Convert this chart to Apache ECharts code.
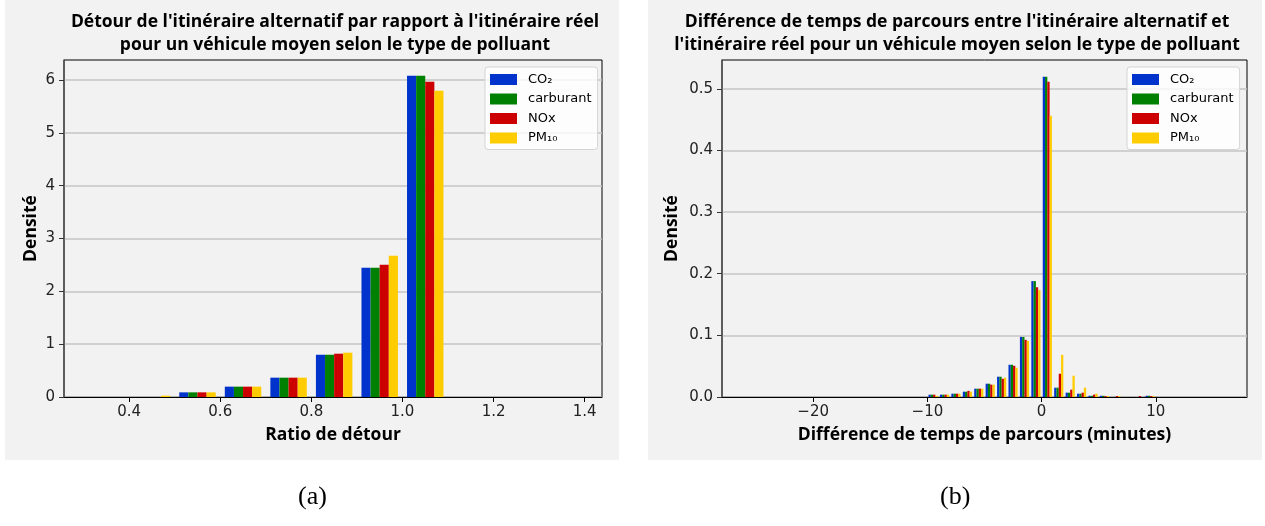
<!DOCTYPE html>
<html>
<head>
<meta charset="utf-8">
<script src="https://cdn.jsdelivr.net/npm/echarts@6/dist/echarts.min.js"></script>
<style>
html,body{margin:0;padding:0;background:#fff;}
#chart{width:1265px;height:526px;}
</style>
</head>
<body>
<div id="chart"></div>
<script>
// ---------- data ----------
const seriesNames = ['CO₂', 'carburant', 'NOx', 'PM₁₀'];
const seriesColors = ['#0033cc', '#008000', '#cc0000', '#ffcc00'];

// (a) detour ratio histogram: bin left edges (width 0.1)
const leftBins  = [0.3, 0.4, 0.5, 0.6, 0.7, 0.8, 0.9, 1.0, 1.1, 1.2, 1.3];
const leftCO2   = [0, 0,     0.088, 0.196, 0.366, 0.800, 2.448, 6.082, 0, 0, 0];
const leftFuel  = [0, 0,     0.088, 0.196, 0.366, 0.800, 2.448, 6.082, 0, 0, 0];
const leftNOx   = [0, 0,     0.088, 0.196, 0.366, 0.820, 2.505, 5.968, 0, 0, 0];
const leftPM10  = [0, 0.025, 0.088, 0.196, 0.366, 0.839, 2.675, 5.798, 0, 0, 0];
const leftXTicks = [0.4, 0.6, 0.8, 1.0, 1.2, 1.4];
const leftYTicks = [0, 1, 2, 3, 4, 5, 6];

// (b) travel time difference histogram: bin left edges (width 1 minute)
const rightBins = [-26, -25, -24, -23, -22, -21, -20, -19, -18, -17, -16, -15, -14, -13, -12, -11,
                   -10, -9, -8, -7, -6, -5, -4, -3, -2, -1, 0, 1, 2, 3, 4, 5, 6, 7, 8, 9,
                   10, 11, 12, 13, 14, 15];
const rightCO2  = [0, 0, 0, 0, 0, 0, 0, 0, 0, 0, 0, 0, 0, 0, 0, 0,
                   0.0038, 0.0038, 0.0054, 0.0086, 0.0135, 0.0216, 0.0329, 0.0523, 0.0975, 0.188, 0.5194, 0.0151, 0.0070, 0.0054, 0.0020, 0.0020, 0, 0, 0, 0.0020,
                   0, 0, 0, 0, 0, 0];
const rightFuel = [0, 0, 0, 0, 0, 0, 0, 0, 0, 0, 0, 0, 0, 0, 0, 0,
                   0.0038, 0.0038, 0.0054, 0.0086, 0.0135, 0.0216, 0.0329, 0.0523, 0.0975, 0.188, 0.5194, 0.0151, 0.0070, 0.0054, 0.0020, 0.0020, 0, 0, 0, 0.0020,
                   0, 0, 0, 0, 0, 0];
const rightNOx  = [0, 0, 0, 0, 0, 0, 0, 0, 0, 0, 0, 0, 0, 0, 0, 0,
                   0.0038, 0.0038, 0.0054, 0.0100, 0.0135, 0.0200, 0.0296, 0.0506, 0.0927, 0.178, 0.5113, 0.0377, 0.0119, 0.0070, 0.0038, 0.0015, 0.0015, 0, 0.0015, 0.0015,
                   0, 0, 0, 0, 0, 0];
const rightPM10 = [0, 0, 0, 0, 0, 0, 0, 0, 0, 0, 0, 0, 0, 0, 0, 0,
                   0.0020, 0.0038, 0.0054, 0.0086, 0.0135, 0.0200, 0.0313, 0.0474, 0.0910, 0.1735, 0.4564, 0.0684, 0.0345, 0.0151, 0.0054, 0.0015, 0.0015, 0, 0, 0.0015,
                   0, 0, 0, 0, 0, 0];
const rightXTicks = [-20, -10, 0, 10];
const rightYTicks = [0, 0.1, 0.2, 0.3, 0.4, 0.5];

// ---------- chart ----------
const chart = echarts.init(document.getElementById('chart'), null, {renderer: 'canvas'});

function pairs(bins, vals) { return bins.map((b, i) => [b, vals[i]]); }

function makeRender(binWidth, idx) {
  return function (params, api) {
    const x0 = api.value(0) + binWidth * (0.1 + 0.2 * idx);
    const x1 = x0 + binWidth * 0.2;
    const p0 = api.coord([x0, api.value(1)]);
    const p1 = api.coord([x1, 0]);
    return {
      type: 'rect',
      shape: {x: p0[0], y: p0[1], width: p1[0] - p0[0], height: p1[1] - p0[1]},
      style: {fill: api.visual('color')}
    };
  };
}

const leftSets = [leftCO2, leftFuel, leftNOx, leftPM10];
const rightSets = [rightCO2, rightFuel, rightNOx, rightPM10];
const series = [];
leftSets.forEach((vals, i) => series.push({
  type: 'custom', name: seriesNames[i], xAxisIndex: 0, yAxisIndex: 0,
  itemStyle: {color: seriesColors[i]},
  renderItem: makeRender(0.1, i),
  encode: {x: 0, y: 1},
  data: pairs(leftBins, vals)
}));
rightSets.forEach((vals, i) => series.push({
  type: 'custom', name: seriesNames[i], xAxisIndex: 1, yAxisIndex: 1,
  itemStyle: {color: seriesColors[i]},
  renderItem: makeRender(1, i),
  encode: {x: 0, y: 1},
  data: pairs(rightBins, vals)
}));

const tickFont = {fontFamily: 'DejaVu Sans', fontSize: 15, color: '#222'};
const nameFont = {fontFamily: 'Open Sans', fontWeight: 'bold', fontSize: 17.5, color: '#000'};
const titleFont = {fontFamily: 'Open Sans', fontWeight: 'bold', fontSize: 17.5, color: '#000', lineHeight: 23};
const minus = v => String(v).replace('-', '\u2212');

function legendCfg(left) {
  return {
    left: left, top: 67, orient: 'vertical', data: seriesNames,
    icon: 'rect', itemWidth: 27, itemHeight: 11, itemGap: 4.5,
    padding: [5, 6, 4, 5], backgroundColor: 'rgba(255,255,255,0.8)',
    borderColor: '#d4d4d4', borderWidth: 1, borderRadius: 3, selectedMode: false,
    textStyle: {fontFamily: 'DejaVu Sans', fontSize: 13, color: '#000', lineHeight: 15, padding: [0, 0, 0, 6]}
  };
}

const option = {
  animation: false,
  backgroundColor: '#ffffff',
  graphic: [
    {type: 'rect', z: -10, shape: {x: 5, y: 0, width: 614, height: 460}, style: {fill: '#f2f2f2'}},
    {type: 'rect', z: -10, shape: {x: 648, y: 0, width: 614, height: 460}, style: {fill: '#f2f2f2'}},
    {type: 'text', left: 298, top: 484, style: {text: '(a)', font: '26px "Liberation Serif"', fill: '#000'}},
    {type: 'text', left: 940, top: 484, style: {text: '(b)', font: '26px "Liberation Serif"', fill: '#000'}}
  ],
  title: [
    {text: "Détour de l'itinéraire alternatif par rapport à l'itinéraire réel\npour un véhicule moyen selon le type de polluant",
     left: 335, top: 11, textAlign: 'center', textStyle: titleFont, padding: 0},
    {text: "Différence de temps de parcours entre l'itinéraire alternatif et\nl'itinéraire réel pour un véhicule moyen selon le type de polluant",
     left: 957, top: 11, textAlign: 'center', textStyle: titleFont, padding: 0}
  ],
  legend: [legendCfg(485), legendCfg(1127)],
  grid: [
    {left: 64, top: 60, width: 538, height: 337, show: true, borderColor: '#000', borderWidth: 1, backgroundColor: 'transparent', containLabel: false},
    {left: 722, top: 60, width: 525, height: 337, show: true, borderColor: '#000', borderWidth: 1, backgroundColor: 'transparent', containLabel: false}
  ],
  xAxis: [
    {gridIndex: 0, type: 'value', min: 0.257, max: 1.438,
     name: 'Ratio de détour', nameLocation: 'middle', nameGap: 29, nameTextStyle: nameFont,
     axisLine: {show: true, onZero: false, lineStyle: {color: '#000', width: 1}},
     axisTick: {show: true, length: 5, customValues: leftXTicks, lineStyle: {color: '#000'}},
     axisLabel: {customValues: leftXTicks, formatter: v => Number(v).toFixed(1), margin: 8, ...tickFont},
     splitLine: {show: false}},
    {gridIndex: 1, type: 'value', min: -27.98, max: 17.98,
     name: 'Différence de temps de parcours (minutes)', nameLocation: 'middle', nameGap: 29, nameTextStyle: nameFont,
     axisLine: {show: true, onZero: false, lineStyle: {color: '#000', width: 1}},
     axisTick: {show: true, length: 5, customValues: rightXTicks, lineStyle: {color: '#000'}},
     axisLabel: {customValues: rightXTicks, formatter: v => minus(v), margin: 8, ...tickFont},
     splitLine: {show: false}}
  ],
  yAxis: [
    {gridIndex: 0, type: 'value', min: 0, max: 6.38, interval: 1,
     name: 'Densité', nameLocation: 'middle', nameGap: 24, nameRotate: 90, nameTextStyle: nameFont,
     axisLine: {show: true, onZero: false, lineStyle: {color: '#555', width: 1.5}},
     axisTick: {show: true, length: 5, customValues: leftYTicks, lineStyle: {color: '#333'}},
     axisLabel: {customValues: leftYTicks, formatter: v => String(v), margin: 9, ...tickFont},
     splitLine: {show: true, lineStyle: {color: '#c4c4c4', width: 1.5}}},
    {gridIndex: 1, type: 'value', min: 0, max: 0.5467, interval: 0.1,
     name: 'Densité', nameLocation: 'middle', nameGap: 41, nameRotate: 90, nameTextStyle: nameFont,
     axisLine: {show: true, onZero: false, lineStyle: {color: '#555', width: 1.5}},
     axisTick: {show: true, length: 5, customValues: rightYTicks, lineStyle: {color: '#333'}},
     axisLabel: {customValues: rightYTicks, formatter: v => Number(v).toFixed(1), margin: 9, ...tickFont},
     splitLine: {show: true, lineStyle: {color: '#c4c4c4', width: 1.5}}}
  ],
  series: series
};
chart.setOption(option);
</script>
</body>
</html>
